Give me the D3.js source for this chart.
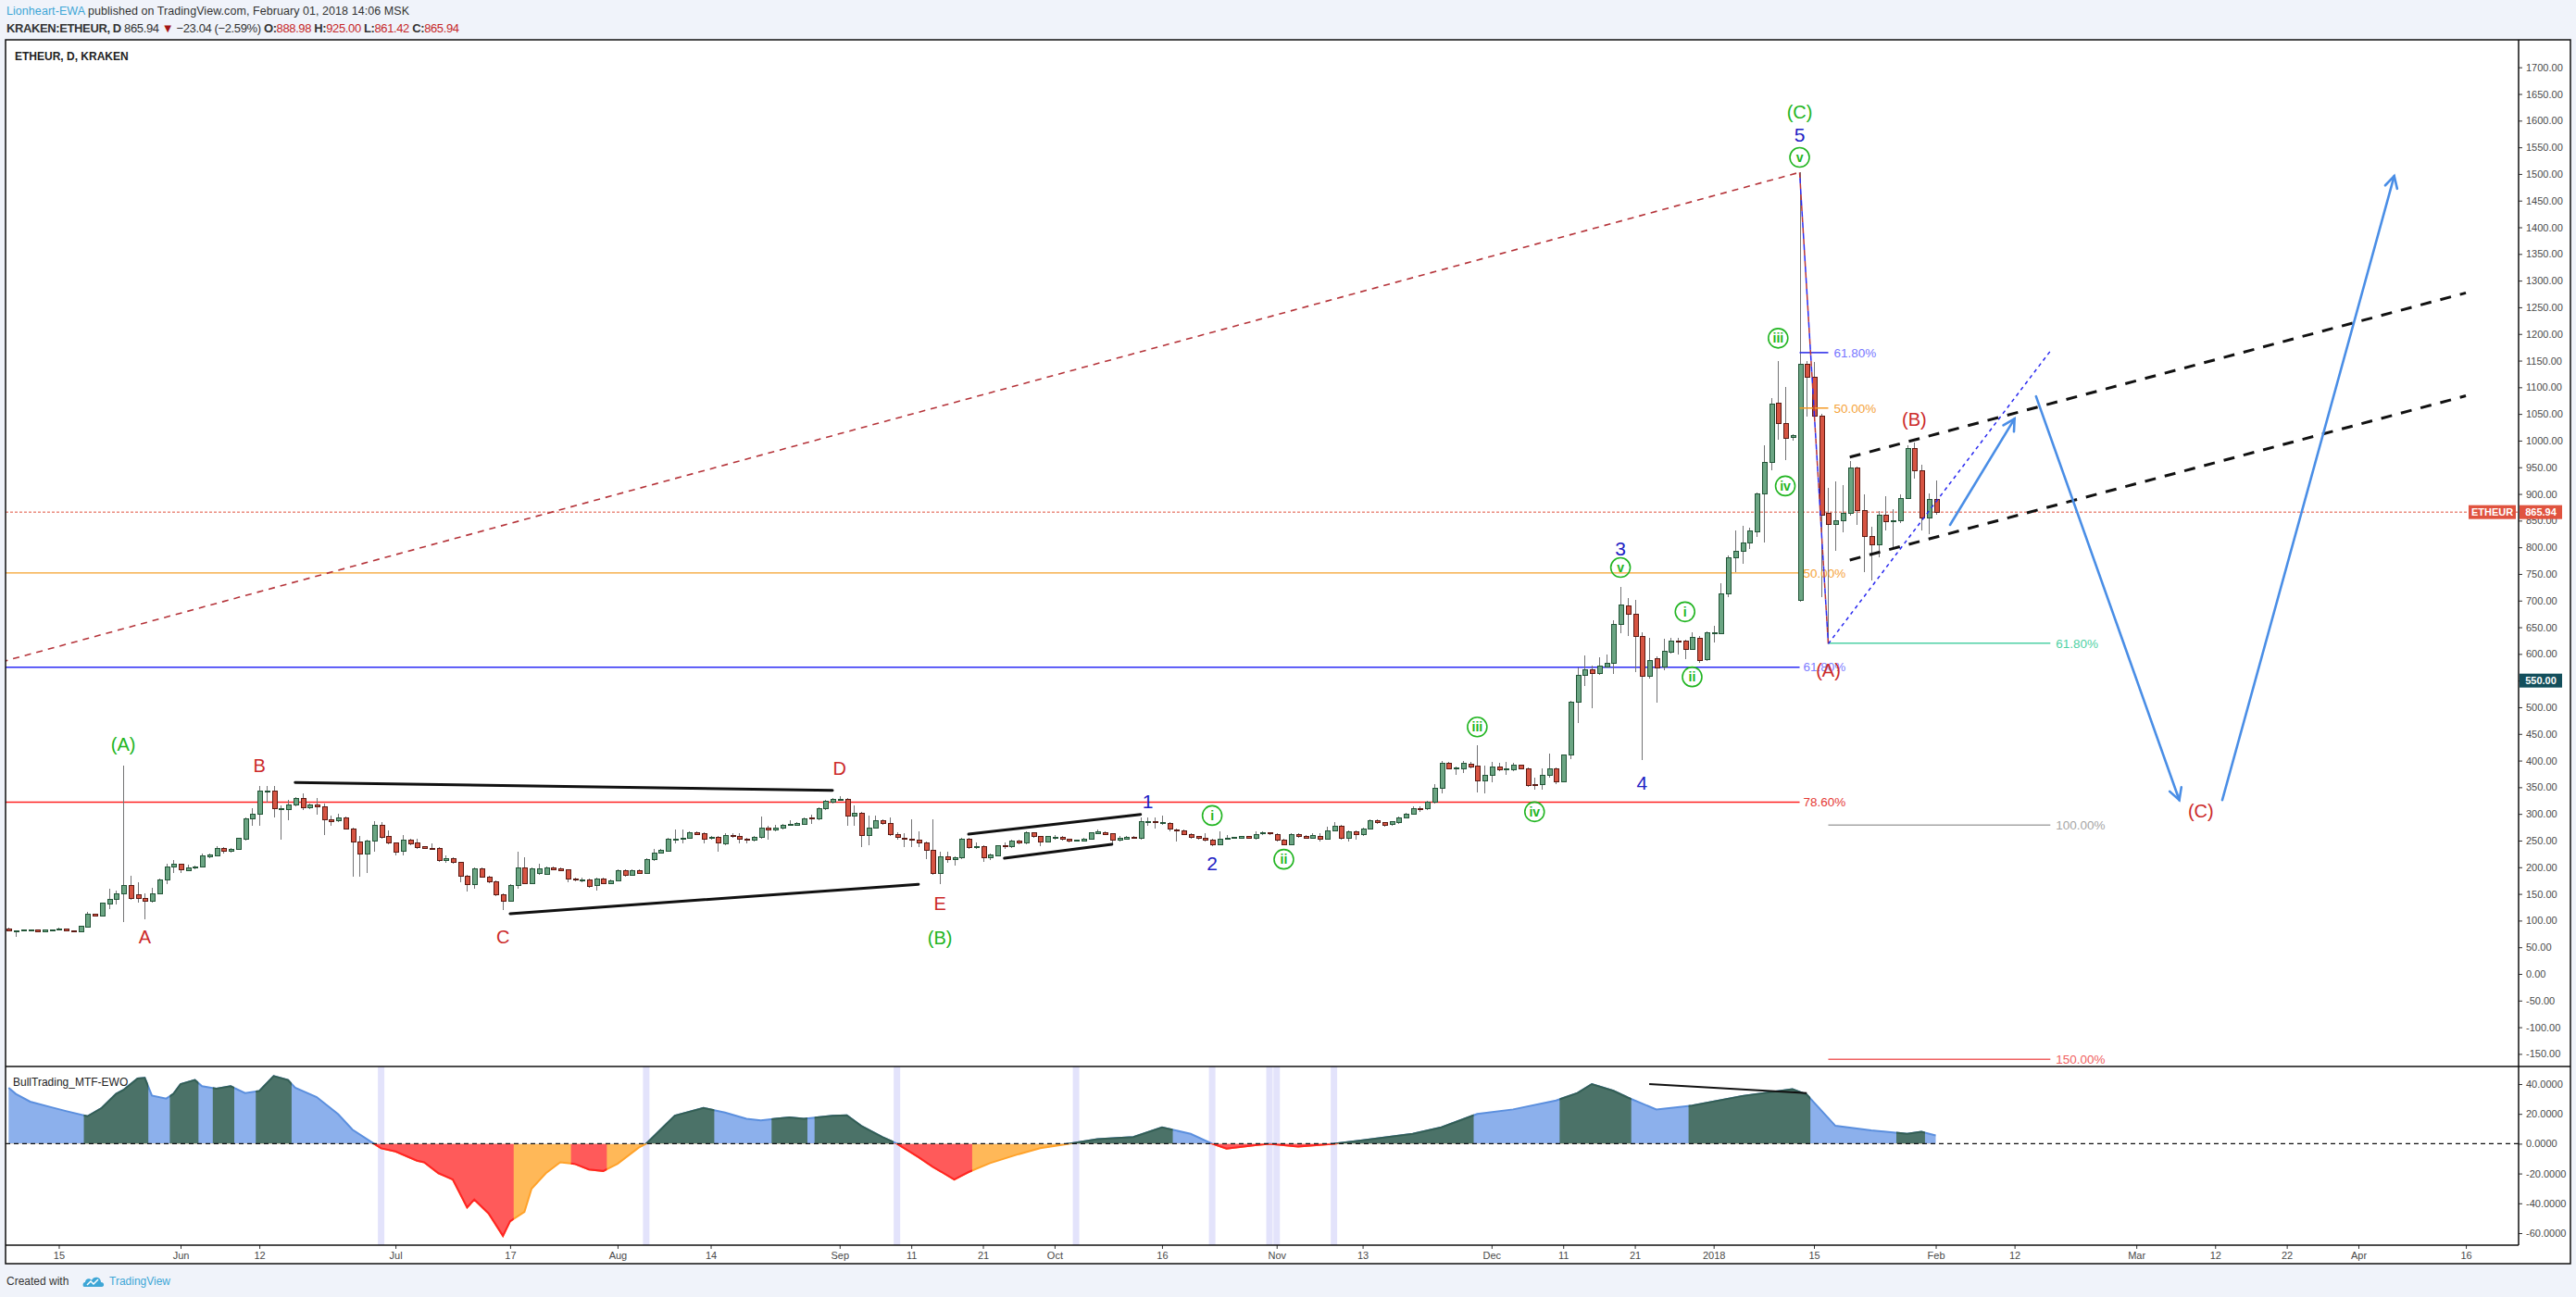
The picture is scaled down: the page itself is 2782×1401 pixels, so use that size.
<!DOCTYPE html>
<html><head><meta charset="utf-8">
<script src="https://cdnjs.cloudflare.com/ajax/libs/d3/7.8.5/d3.min.js"></script>
<style>
body{margin:0;background:#f0f3fa;}
svg{display:block;font-family:"Liberation Sans",Arial,sans-serif;}
</style></head><body>
<svg id="chart" width="2782" height="1401"></svg>
<script>
'use strict';
// daily candles [open, high, low, close], first one on candleStart
const candleStart = '2017-05-08';
const candlesMay = [[85,86,79,80],[79.5,82,70,81],[82,84,80,82],[81,84,80,83],[83,84,79,79.5],[79.5,84,79,83],[83,83.5,82.5,83],[82,87,81,84.5],[84.5,85,80,80.5],[81,81.5,78,79],[79,89.5,78.5,88.7],[88.5,116,88,112.4],[112.4,113,107,108],[108,134,107,132],[131,160,122,139],[139,157,131,151],[150,391,97,165],[165,184,139,141],[149,171,133,141],[142,151,103,136],[136,161,134,151],[151,179,150,177],[176,206,168,201],[201,214,190,205]];
const candlesJun = [[205,207,190,195],[194,204,192,199],[199,203,197,201],[200,225,199,221],[219,226,217,223],[221,240,220,236],[236,238,226,230],[230,236,228,234],[234,256,233,254],[252,293,250,291],[291,310,278,300],[300,352,278,343],[343,352,322,343],[343,352,294,310],[310,316,252,310],[308,326,289,317],[317,331,315,329],[329,339,307,311],[311,319,309,317],[317,330,299,314],[314,319,261,289],[289,296,278,285],[287,301,284,293],[293,295,270,272],[272,275,183,248],[248,258,183,225],[225,251,190,249],[249,287,229,279],[279,284,254,256],[258,269,243,245]];
const candlesJul = [[245,247,223,229],[230,261,223,251],[251,253,242,244],[245,254,235,237],[238,240,234,236],[236,244,232,233],[236,237,210,212],[213,222,209,216],[216,218,207,209],[209,210,171,184],[184,186,154,167],[167,200,160,197],[197,199,180,182],[182,184,170,173],[173,175,146,148],[149,151,120,137],[137,168,135,166],[166,230,160,199],[199,218,168,170],[170,199,168,197],[189,206,186,197],[187,201,185,199],[199,201,194,196],[197,199,192,194],[195,197,171,178],[178,180,174,176],[176,180,172,176.5],[177,178,162,164],[165,180,157,178],[178,180,168,170],[170,177,168,175]];
const candlesAug = [[175,196,173,194],[194,196,183,185],[185,196,184,194],[194,196,187,189],[189,217,188,215],[214,234,212,227],[227,235,225,231],[230,256,229,253],[253,271,244,253],[252,270,244,255],[255,267,253,265],[265,268,260,262],[263,265,244,253],[254,258,252,256],[256,258,230,246],[244,264,242,260],[260,263,256,258],[257,264,245,252],[253,255,244,250],[251,258,249,256],[256,295,254,274],[274,277,252,270],[270,280,268,274],[273,281,271,279],[279,288,277,280],[279,284,277,282],[281,293,280,291],[292,298,281,291.5],[291,312,289,310],[310,327,308,323],[322,329,320,327]];
const candlesSep = [[327,333,325,327.5],[327,329,277,296],[296,316,278,302],[301,303,237,260],[260,296,242,274],[274,296,272,288],[288,290,280,282],[282,293,259,261],[262,266,251,256],[255,264,238,253],[253,290,238,251],[251,268,238,245],[246,248,215,231],[232,290,186,188],[188,230,168,220],[220,230,209,214],[214,220,203,218],[218,255,216,253],[253,255,234,237],[238,246,235,238.5],[239,241,210,218],[218,225,214,223],[222,242,220,240],[241,246,235,238],[238,251,236,249],[249,251,243,245],[245,268,243,264],[264,266,255,257],[257,259,240,248],[248,259,246,257]];
const candlesOct = [[256,260,251,256.5],[256,258,250,252],[253,254,247,249],[250,252,248,250],[249,255,248,253],[253,266,252,264],[263,270,262,266],[265,267,260,262],[263,264,244,251],[251,258,249,254],[253,258,252,256],[256,258,253,255],[255,293,251,285],[285,293,278,285.5],[285,293,272,283],[283,296,280,283.5],[282,284,267,271],[270,272,249,268],[269,271,260,262],[262,264,254,256],[257,259,252,254],[255,264,248,250],[251,253,239,242],[242,267,241,253],[253,261,251,255],[255,257,253,255.5],[255,259,253,257],[257,259,253,255],[254,268,252,262],[263,267,261,264],[264,266,261,263]];
const candlesNov = [[262,264,249,251],[251,253,241,243],[243,264,241,262],[262,264,256,258],[258,260,253,255],[255,264,253,260],[258,264,249,252],[253,276,251,269],[269,285,267,277],[277,279,252,255],[255,269,249,267],[267,269,252,261],[261,274,259,272],[272,290,270,288],[288,290,281,283],[283,285,276,278],[280,287,278,285],[284,295,282,293],[293,302,291,300],[300,315,298,309],[309,315,303,308],[309,324,307,322],[322,356,320,348],[348,399,339,395],[395,398,383,385],[385,388,374,385.5],[385,400,377,395],[394,397,386,388],[389,428,341,362],[362,391,339,373]];
const candlesDec = [[373,398,359,388],[388,395,380,383],[384,397,374,385],[383,395,381,391],[391,393,383,385],[385,387,351,353],[355,368,345,354],[355,386,345,373],[372,413,368,385],[385,387,356,361],[361,412,359,410],[410,512,403,509],[509,575,471,560],[560,597,540,570],[570,578,498,564],[564,594,560,577],[576,599,574,582],[582,663,562,655],[655,725,639,691],[690,705,633,675],[675,701,566,633],[633,640,401,558],[558,630,553,588],[591,596,509,574],[575,628,570,605],[603,631,600,624],[624,631,599,623],[624,627,590,609],[609,640,607,631],[630,633,584,588],[589,642,586,639]];
const candlesJan = [[639,652,622,640],[638,732,637,712],[712,784,706,780],[780,832,754,793],[793,841,769,808],[808,836,796,830],[829,902,820,900],[900,991,809,959],[959,1080,945,1069],[1071,1150,1001,1032],[1032,1100,963,1004],[1006,1012,1000,1009],[700,1503,698,1143],[1143,1150,1045,1118],[1118,1147,1044,1046],[1046,1051,706,860],[864,912,619,842],[842,923,793,850],[850,917,828,864],[864,961,860,949],[949,952,842,868],[868,900,753,820],[820,839,738,805],[805,868,782,861],[861,896,831,848],[848,871,799,850],[850,900,845,892],[892,992,890,985],[985,997,928,944],[944,955,832,855],[855,901,824,889]];
const candlesFeb = [[888.98,925,861.42,865.94]];

// BullTrading_MTF-EWO oscillator readings
const ewo = [['2017-05-08',37.5],['2017-05-09',33.4],['2017-05-11',28.2],['2017-05-14',24.4],['2017-05-16',21.9],['2017-05-19',18.4],['2017-05-21',24],['2017-05-23',33.4],['2017-05-24',36],['2017-05-26',43.8],['2017-05-27',44.2],['2017-05-28',32.3],['2017-05-30',30.3],['2017-05-31',33.4],['2017-06-01',40],['2017-06-03',42.7],['2017-06-04',38.6],['2017-06-06',36.9],['2017-06-08',38.6],['2017-06-10',34],['2017-06-12',35.4],['2017-06-14',45.4],['2017-06-16',42.7],['2017-06-17',37.5],['2017-06-20',31.3],['2017-06-23',19.8],['2017-06-25',9.4],['2017-06-28',0],['2017-06-29',-3.1],['2017-07-01',-5.2],['2017-07-04',-11.4],['2017-07-05',-12.5],['2017-07-07',-19.8],['2017-07-09',-24],['2017-07-11',-42.7],['2017-07-12',-37.5],['2017-07-14',-46.8],['2017-07-16',-61.8],['2017-07-17',-52],['2017-07-19',-45.8],['2017-07-20',-30.2],['2017-07-22',-19.8],['2017-07-24',-12.5],['2017-07-26',-13.5],['2017-07-28',-17.3],['2017-07-30',-18.3],['2017-08-01',-13.5],['2017-08-04',-2.5],['2017-08-05',0],['2017-08-07',9.4],['2017-08-09',18.8],['2017-08-13',24],['2017-08-16',20.9],['2017-08-19',16.7],['2017-08-21',15.7],['2017-08-23',16.7],['2017-08-25',17.7],['2017-08-27',16.7],['2017-08-31',18.8],['2017-09-02',19],['2017-09-04',12],['2017-09-07',4.4],['2017-09-09',0],['2017-09-12',-9],['2017-09-14',-15.5],['2017-09-17',-24],['2017-09-19',-19],['2017-09-22',-13],['2017-09-26',-7],['2017-09-29',-3],['2017-10-03',0],['2017-10-07',3],['2017-10-12',4.4],['2017-10-16',11],['2017-10-20',6.6],['2017-10-23',0],['2017-10-25',-3.3],['2017-10-29',-1],['2017-10-31',0],['2017-11-04',-2],['2017-11-09',0],['2017-11-13',2.2],['2017-11-20',6.6],['2017-11-24',11],['2017-11-29',20],['2017-12-04',23],['2017-12-10',29],['2017-12-13',34],['2017-12-15',40],['2017-12-18',35.5],['2017-12-20',31],['2017-12-24',23],['2017-12-29',25.5],['2018-01-05',32],['2018-01-12',36.6],['2018-01-14',33],['2018-01-18',12],['2018-01-23',9],['2018-01-28',6.6],['2018-01-30',8],['2018-02-01',5.5]];
const ewoDarkRanges = [['2017-05-19','2017-05-27'],['2017-05-31','2017-06-03'],['2017-06-06','2017-06-08'],['2017-06-12','2017-06-16'],['2017-08-05','2017-08-14'],['2017-08-23','2017-08-27'],['2017-08-29','2017-09-08'],['2017-10-03','2017-10-17'],['2017-11-09','2017-11-28'],['2017-12-11','2017-12-20'],['2017-12-29','2018-01-12'],['2018-01-13','2018-01-14'],['2018-01-27','2018-01-30']];
const ewoRedRanges = [['2017-06-28','2017-07-17'],['2017-07-26','2017-07-30'],['2017-09-09','2017-09-19'],['2017-10-23','2017-11-09']];
const ewoBands = ['2017-06-29','2017-08-05','2017-09-09','2017-10-04','2017-10-23','2017-10-31','2017-11-01','2017-11-09'];

const priceTicks = d3.range(-150, 1701, 50);
const ewoTicks = [40, 20, 0, -20, -40, -60];
const timeTicks = [['2017-05-15','15'],['2017-06-01','Jun'],['2017-06-12','12'],['2017-07-01','Jul'],['2017-07-17','17'],['2017-08-01','Aug'],['2017-08-14','14'],['2017-09-01','Sep'],['2017-09-11','11'],['2017-09-21','21'],['2017-10-01','Oct'],['2017-10-16','16'],['2017-11-01','Nov'],['2017-11-13','13'],['2017-12-01','Dec'],['2017-12-11','11'],['2017-12-21','21'],['2018-01-01','2018'],['2018-01-15','15'],['2018-02-01','Feb'],['2018-02-12','12'],['2018-03-01','Mar'],['2018-03-12','12'],['2018-03-22','22'],['2018-04-01','Apr'],['2018-04-16','16']];

// fibonacci levels [price, label]
const fibLong = [[752,'50.00%'],[575,'61.80%'],[322,'78.60%']];
const fibShort = [[1165,'61.80%'],[1061,'50.00%']];
const fibExt = [[620,'61.80%'],[279,'100.00%'],[-160,'150.00%']];

// drawings [date1, price1, date2, price2]
const solidTrendLines = [['2017-06-17',359,'2017-08-31',344],['2017-07-17',113,'2017-09-12',168],['2017-09-19',262,'2017-10-13',299],['2017-09-24',217,'2017-10-09',243]];
const longRedDashed = ['2017-05-07',585,'2018-01-13',1503];
const dropLine = ['2018-01-13',1503,'2018-01-17',619];
const blueDotted = ['2018-01-17',619,'2018-02-17',1168];
const channelUpper = ['2018-01-20',969,'2018-04-16',1277];
const channelLower = ['2018-01-20',776,'2018-04-16',1084];
const blueArrows = [['2018-02-03',842,'2018-02-12',1041],['2018-02-15',1083,'2018-03-07',326],['2018-03-13',326,'2018-04-06',1496]];
const ewoTrend = ['2017-12-23',40,'2018-01-14',34];

// wave labels [text, date, price]
const redLabels = [['A','2017-05-27',69],['B','2017-06-12',390],['C','2017-07-16',69],['D','2017-09-01',385],['E','2017-09-15',132],['(B)','2018-01-29',1040],['(A)','2018-01-17',569],['(C)','2018-03-10',305]];
const greenLabels = [['(A)','2017-05-24',430],['(B)','2017-09-15',68],['(C)','2018-01-13',1616]];
const blueLabels = [['5','2018-01-13',1573],['3','2017-12-19',798],['4','2017-12-22',359],['1','2017-10-14',323],['2','2017-10-23',207]];
const circledLabels = [['v','2018-01-13',1531],['iii','2018-01-10',1192],['iv','2018-01-11',915],['i','2017-12-28',679],['ii','2017-12-29',557],['v','2017-12-19',762],['iii','2017-11-29',463],['iv','2017-12-07',304],['i','2017-10-23',297],['ii','2017-11-02',215]];

// ---------------------------------------------------------------
const parse = d3.utcParse('%Y-%m-%d');
const L = 6, R = 2720, OR = 2776, T = 43, PB = 1152, IB = 1345, OB = 1365;
const x = d3.scaleUtc().domain([parse('2017-06-01'), parse('2018-04-01')]).range([195, 2547]);
const y = d3.scaleLinear().domain([0, 1700]).range([1052, 72.7]);
const yo = d3.scaleLinear().domain([-60, 40]).range([1332, 1171]);
const dayW = x(parse('2017-06-02')) - x(parse('2017-06-01'));
const fmt2 = d => d.toFixed(2);

const candles = [].concat(candlesMay, candlesJun, candlesJul, candlesAug, candlesSep,
    candlesOct, candlesNov, candlesDec, candlesJan, candlesFeb)
    .map((c, i) => ({date: d3.utcDay.offset(parse(candleStart), i), o: c[0], h: c[1], l: c[2], c: c[3]}));

const svg = d3.select('#chart');
svg.append('rect').attr('width', 2782).attr('height', 1401).attr('fill', '#f0f3fa');
svg.append('rect').attr('x', L).attr('y', T).attr('width', OR - L).attr('height', OB - T).attr('fill', '#fff');

const defs = svg.append('defs');
function clipRect(id, x0, y0, x1, y1) {
    defs.append('clipPath').attr('id', id).append('rect')
        .attr('x', x0).attr('y', y0).attr('width', x1 - x0).attr('height', y1 - y0);
}
clipRect('clipPrice', L, T, R, PB);
clipRect('clipInd', L, PB, R, IB);
clipRect('clipUp', L, PB, R, yo(0));
clipRect('clipDown', L, yo(0), R, IB);
function clipRanges(id, ranges, y0, y1) {
    defs.append('clipPath').attr('id', id).selectAll('rect').data(ranges).join('rect')
        .attr('x', d => x(parse(d[0])) - dayW / 2)
        .attr('width', d => x(parse(d[1])) - x(parse(d[0])) + dayW)
        .attr('y', y0).attr('height', y1 - y0);
}
clipRanges('clipDark', ewoDarkRanges, PB, yo(0));
clipRanges('clipRed', ewoRedRanges, yo(0), IB);

// ---------------- header ----------------
const head = svg.append('g').attr('font-size', 12.5).attr('fill', '#333');
let t1 = head.append('text').attr('x', 7).attr('y', 16).attr('textLength', 435).attr('lengthAdjust', 'spacing');
t1.append('tspan').attr('fill', '#3ea6d6').text('Lionheart-EWA');
t1.append('tspan').text(' published on TradingView.com, February 01, 2018 14:06 MSK');
let t2 = head.append('text').attr('x', 7).attr('y', 35).attr('font-size', 13).attr('textLength', 489).attr('lengthAdjust', 'spacing');
t2.append('tspan').attr('font-weight', 'bold').text('KRAKEN:ETHEUR, D');
t2.append('tspan').text('  865.94 ');
t2.append('tspan').attr('fill', '#a31515').text('▼');
t2.append('tspan').text(' \u221223.04 (\u22122.59%) ');
[['O:', '888.98'], ['H:', '925.00'], ['L:', '861.42'], ['C:', '865.94']].forEach(p => {
    t2.append('tspan').attr('font-weight', 'bold').text(' ' + p[0]);
    t2.append('tspan').attr('fill', '#c62828').text(p[1]);
});
svg.append('text').attr('x', 16).attr('y', 65).attr('font-size', 12).attr('font-weight', 'bold')
    .attr('fill', '#222').text('ETHEUR, D, KRAKEN');

// ---------------- price pane ----------------
const pg = svg.append('g').attr('clip-path', 'url(#clipPrice)');
const P = (d, v) => [x(parse(d)), y(v)];
const peakX = x(parse('2018-01-13'));
const lowX = x(parse('2018-01-17'));
const extEndX = x(parse('2018-02-17'));

// long fib lines
const fibLongColors = ['#f5a02a', '#2b2bf5', '#ff2222'];
fibLong.forEach((f, i) => {
    pg.append('line').attr('x1', L).attr('x2', peakX).attr('y1', y(f[0])).attr('y2', y(f[0]))
        .attr('stroke', fibLongColors[i]).attr('stroke-width', i == 0 ? 1.2 : 1.6);
});
// last price dotted line
pg.append('line').attr('x1', L).attr('x2', R).attr('y1', y(865.94)).attr('y2', y(865.94))
    .attr('stroke', '#e0533f').attr('stroke-width', 1).attr('stroke-dasharray', '3,2');

function seg(g, s) {
    const a = P(s[0], s[1]), b = P(s[2], s[3]);
    return g.append('line').attr('x1', a[0]).attr('y1', a[1]).attr('x2', b[0]).attr('y2', b[1]);
}
seg(pg, longRedDashed).attr('stroke', '#b5343a').attr('stroke-width', 1.6).attr('stroke-dasharray', '7,6');

// candles
const cg = pg.append('g').attr('shape-rendering', 'crispEdges');
cg.selectAll('line').data(candles).join('line')
    .attr('x1', d => Math.round(x(d.date)) + 0.5).attr('x2', d => Math.round(x(d.date)) + 0.5)
    .attr('y1', d => y(d.h)).attr('y2', d => y(d.l))
    .attr('stroke', '#737375').attr('stroke-width', 1);
cg.selectAll('rect').data(candles).join('rect')
    .attr('x', d => Math.round(x(d.date)) - 2)
    .attr('width', 5)
    .attr('y', d => y(Math.max(d.o, d.c)))
    .attr('height', d => Math.max(1, Math.abs(y(d.o) - y(d.c))))
    .attr('fill', d => d.c >= d.o ? '#6ba583' : '#d75442')
    .attr('stroke', d => d.c >= d.o ? '#225437' : '#5b1a13')
    .attr('stroke-width', 1);

// short fib lines and labels
const fibShortColors = ['#2626e8', '#f59a23'];
const fibShortText = ['#7777ff', '#f5a33a'];
fibShort.forEach((f, i) => {
    pg.append('line').attr('x1', peakX).attr('x2', lowX).attr('y1', y(f[0])).attr('y2', y(f[0]))
        .attr('stroke', fibShortColors[i]).attr('stroke-width', 1.5);
    pg.append('text').attr('x', lowX + 6).attr('y', y(f[0])).attr('dy', '0.35em')
        .attr('font-size', 13.5).attr('fill', fibShortText[i]).text(f[1]);
});
const fibLongText = ['#f5a33a', '#7d7dff', '#e53935'];
fibLong.forEach((f, i) => {
    pg.append('text').attr('x', peakX + 4).attr('y', y(f[0])).attr('dy', '0.35em')
        .attr('font-size', 13.5).attr('fill', fibLongText[i]).text(f[1]);
});
const fibExtColors = ['#4fd1a5', '#a6a6a6', '#f06262'];
fibExt.forEach((f, i) => {
    pg.append('line').attr('x1', lowX).attr('x2', extEndX).attr('y1', y(f[0])).attr('y2', y(f[0]))
        .attr('stroke', fibExtColors[i]).attr('stroke-width', 1.5);
    pg.append('text').attr('x', extEndX + 6).attr('y', y(f[0])).attr('dy', '0.35em')
        .attr('font-size', 13.5).attr('fill', fibExtColors[i]).text(f[1]);
});

// drawings
solidTrendLines.forEach(s => seg(pg, s).attr('stroke', '#111').attr('stroke-width', 3).attr('stroke-linecap', 'round'));
seg(pg, dropLine).attr('stroke', '#b5343a').attr('stroke-width', 1.5).attr('stroke-dasharray', '6,6');
seg(pg, dropLine).attr('stroke', '#2a2af0').attr('stroke-width', 1.5).attr('stroke-dasharray', '6,6').attr('stroke-dashoffset', 6);
seg(pg, blueDotted).attr('stroke', '#2a2af0').attr('stroke-width', 1.5).attr('stroke-dasharray', '4,4');
seg(pg, channelUpper).attr('stroke', '#111').attr('stroke-width', 3).attr('stroke-dasharray', '12,10');
seg(pg, channelLower).attr('stroke', '#111').attr('stroke-width', 3).attr('stroke-dasharray', '12,10');
blueArrows.forEach(s => {
    const a = P(s[0], s[1]), b = P(s[2], s[3]);
    const ang = Math.atan2(b[1] - a[1], b[0] - a[0]);
    const len = 14, spread = 0.5;
    const arm = k => [b[0] - len * Math.cos(ang + k * spread), b[1] - len * Math.sin(ang + k * spread)];
    const g = pg.append('g').attr('stroke', '#4a8ee6').attr('stroke-width', 2.6)
        .attr('fill', 'none').attr('stroke-linecap', 'round');
    g.append('line').attr('x1', a[0]).attr('y1', a[1]).attr('x2', b[0]).attr('y2', b[1]);
    g.append('path').attr('d', d3.line()([arm(1), b, arm(-1)]));
});

// wave labels
function waveLabels(list, color, size) {
    pg.append('g').selectAll('text').data(list).join('text')
        .attr('x', d => x(parse(d[1]))).attr('y', d => y(d[2])).attr('dy', '0.35em')
        .attr('text-anchor', 'middle').attr('font-size', size).attr('fill', color)
        .text(d => d[0]);
}
waveLabels(redLabels, '#cc2a2a', 20);
waveLabels(greenLabels, '#22b522', 20);
waveLabels(blueLabels, '#2121c4', 21);
const cl = pg.append('g').selectAll('g').data(circledLabels).join('g')
    .attr('transform', d => `translate(${x(parse(d[1]))},${y(d[2])})`);
cl.append('circle').attr('r', 10.5).attr('fill', 'none').attr('stroke', '#22b522').attr('stroke-width', 1.6);
cl.append('text').attr('text-anchor', 'middle').attr('dy', '0.36em').attr('font-size', 14)
    .attr('font-weight', 'bold').attr('fill', '#22b522').text(d => d[0]);

// ---------------- indicator pane ----------------
const ig = svg.append('g').attr('clip-path', 'url(#clipInd)');
ig.selectAll('rect.band').data(ewoBands).join('rect').attr('class', 'band')
    .attr('x', d => x(parse(d)) - 3.5).attr('width', 7)
    .attr('y', PB).attr('height', IB - PB).attr('fill', '#e3e3fb');
const ewoData = ewo.map(d => ({date: parse(d[0]), v: d[1]}));
const area = d3.area().x(d => x(d.date)).y0(yo(0)).y1(d => yo(d.v));
const eline = d3.line().x(d => x(d.date)).y(d => yo(d.v));
[['clipUp', '#8cb0ec', '#5b8fde'], ['clipDark', '#4b7268', '#335e54'],
 ['clipDown', '#ffb858', '#ffa22a'], ['clipRed', '#ff5a5a', '#ff2424']].forEach(c => {
    const g = ig.append('g').attr('clip-path', `url(#${c[0]})`);
    g.append('path').attr('d', area(ewoData)).attr('fill', c[1]);
    g.append('path').attr('d', eline(ewoData)).attr('fill', 'none').attr('stroke', c[2]).attr('stroke-width', 2);
});
ig.append('line').attr('x1', L).attr('x2', R).attr('y1', yo(0)).attr('y2', yo(0))
    .attr('stroke', '#111').attr('stroke-width', 1.2).attr('stroke-dasharray', '5,4');
{
    const a = [x(parse(ewoTrend[0])), yo(ewoTrend[1])], b = [x(parse(ewoTrend[2])), yo(ewoTrend[3])];
    ig.append('line').attr('x1', a[0]).attr('y1', a[1]).attr('x2', b[0]).attr('y2', b[1])
        .attr('stroke', '#111').attr('stroke-width', 2);
}
svg.append('text').attr('x', 14).attr('y', 1173).attr('font-size', 12).attr('fill', '#222').text('BullTrading_MTF-EWO');

// ---------------- axes & frame ----------------
function styleAxis(g) {
    g.select('.domain').remove();
    g.selectAll('.tick line').attr('stroke', '#333');
    g.selectAll('.tick text').attr('fill', '#4a4a4a').attr('font-size', 11)
        .attr('font-family', '"Liberation Sans",Arial,sans-serif');
}
svg.append('g').attr('transform', `translate(${R},0)`)
    .call(d3.axisRight(y).tickValues(priceTicks).tickFormat(fmt2).tickSize(4).tickPadding(4))
    .call(styleAxis);
svg.append('g').attr('transform', `translate(${R},0)`)
    .call(d3.axisRight(yo).tickValues(ewoTicks).tickFormat(d => d.toFixed(4)).tickSize(4).tickPadding(4))
    .call(styleAxis);
const tickMap = new Map(timeTicks.map(t => [parse(t[0]).getTime(), t[1]]));
svg.append('g').attr('transform', `translate(0,${IB})`)
    .call(d3.axisBottom(x).tickValues(timeTicks.map(t => parse(t[0]))).tickFormat(d => tickMap.get(d.getTime())).tickSize(4).tickPadding(3))
    .call(styleAxis);

const frame = svg.append('g').attr('stroke', '#111').attr('stroke-width', 1.5).attr('fill', 'none');
frame.append('rect').attr('x', L).attr('y', T).attr('width', OR - L).attr('height', OB - T);
frame.append('line').attr('x1', R).attr('x2', R).attr('y1', T).attr('y2', IB);
frame.append('line').attr('x1', L).attr('x2', OR).attr('y1', PB).attr('y2', PB);
frame.append('line').attr('x1', L).attr('x2', R).attr('y1', IB).attr('y2', IB);

// price tags on the axis
function tag(x0, w, yc, fill, text) {
    svg.append('rect').attr('x', x0).attr('y', yc - 7.5).attr('width', w).attr('height', 15).attr('fill', fill);
    svg.append('text').attr('x', x0 + w / 2).attr('y', yc).attr('dy', '0.35em').attr('text-anchor', 'middle')
        .attr('font-size', 11).attr('font-weight', 'bold').attr('fill', '#fff').text(text);
}
tag(2666, 51, y(865.94), '#e0533f', 'ETHEUR');
tag(R + 1, 46, y(865.94), '#e0533f', fmt2(865.94));
tag(R + 1, 46, y(550), '#134f5c', fmt2(550));

// ---------------- footer ----------------
svg.append('text').attr('x', 7).attr('y', 1388).attr('font-size', 12).attr('fill', '#333').text('Created with');
const logo = svg.append('g').attr('transform', 'translate(89,1377)');
logo.append('path').attr('d', 'M2,13 C0,13 0,8 3,8 C3,4 8,3 10,6 C12,1 20,2 20,8 C24,8 24,13 21,13 Z').attr('fill', '#3ea6d6');
logo.append('path').attr('d', 'M5,11 L9,7 L12,10 L17,5').attr('stroke', '#fff').attr('stroke-width', 1.5).attr('fill', 'none');
svg.append('text').attr('x', 118).attr('y', 1388).attr('font-size', 12).attr('fill', '#3ea6d6').text('TradingView');
</script></body></html>
